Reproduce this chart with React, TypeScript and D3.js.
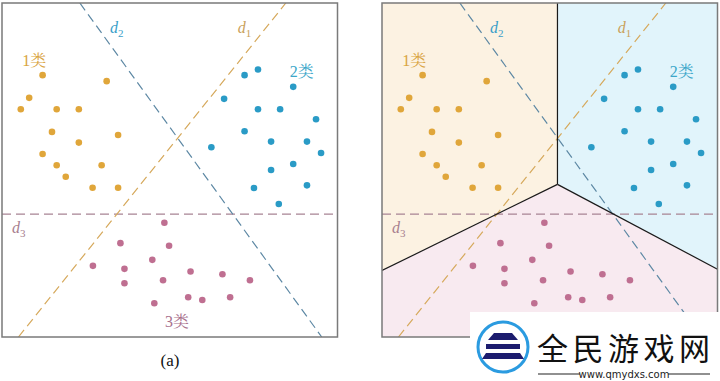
import React from 'react';
import * as d3 from 'd3';

// ---- data (abstract units 0..10) ----
const class1: [number, number][] = [
  [1.21, 7.84], [3.12, 7.66], [0.81, 7.16], [0.56, 6.82], [1.63, 6.82], [2.29, 6.82],
  [1.49, 6.14], [3.46, 6.05], [2.29, 5.82], [1.21, 5.48], [1.63, 5.14], [2.97, 5.14],
  [1.9, 4.8], [2.7, 4.47], [3.46, 4.47],
];
const class2: [number, number][] = [
  [7.23, 7.84], [7.63, 8.01], [8.68, 7.49], [6.62, 7.13], [7.63, 6.82], [8.29, 6.82],
  [9.36, 6.52], [7.23, 6.16], [6.24, 5.68], [8.02, 5.85], [9.09, 5.85], [9.51, 5.51],
  [8.68, 5.18], [8.02, 5.0], [9.09, 4.54], [7.51, 4.46], [8.25, 3.98],
];
const class3: [number, number][] = [
  [4.84, 3.42], [3.53, 2.81], [4.98, 2.73], [4.48, 2.31], [2.71, 2.13], [3.65, 2.04],
  [4.8, 1.7], [3.65, 1.61], [4.54, 1.01], [5.62, 1.96], [6.57, 1.88], [7.39, 1.7],
  [5.55, 1.19], [5.97, 1.11], [6.8, 1.19],
];
const lineD1: [number, number][] = [[0.49, 0], [8.46, 10]];
const lineD2: [number, number][] = [[2.32, 10], [9.53, 0]];
const lineD3: [number, number][] = [[0, 3.68], [10, 3.68]];
const junction: [number, number] = [5.23, 4.57];
const region1: [number, number][] = [[0, 10], [5.23, 10], junction, [0, 1.99]];
const region2: [number, number][] = [[5.23, 10], [10, 10], [10, 2.03], junction];
const region3: [number, number][] = [[0, 0], [10, 0], [10, 2.03], junction, [0, 1.99]];
const boundaries: [number, number][][] = [
  [[5.23, 10], junction],
  [[0, 1.99], junction],
  [[10, 2.03], junction],
];
const classLabels = [
  { text: '1类', at: [0.6, 8.11], color: '#d9a441' },
  { text: '2类', at: [8.58, 7.78], color: '#3ba6c9' },
  { text: '3类', at: [4.86, 0.3], color: '#a8708c' },
];
const lineLabels = [
  { sub: '1', at: [7.03, 9.1], color: '#c9a25c' },
  { sub: '2', at: [3.22, 9.1], color: '#3a9fc9' },
  { sub: '3', at: [0.3, 3.11], color: '#a8808f' },
];

const x = d3.scaleLinear().domain([0, 10]).range([2, 337.5]);
const y = d3.scaleLinear().domain([0, 10]).range([337, 3]);
const lineGen = d3.line<[number, number]>().x((d) => x(d[0])).y((d) => y(d[1]));

const SERIF = '"Liberation Serif", "Noto Serif CJK SC", "Noto Sans CJK SC", serif';

function Panel({ id, shaded }: { id: string; shaded: boolean }) {
  return (
    <g>
      <defs>
        <clipPath id={id}>
          <rect x={x(0)} y={y(10)} width={x(10) - x(0)} height={y(0) - y(10)} />
        </clipPath>
      </defs>
      {shaded && (
        <g>
          <path d={lineGen(region1)! + 'Z'} fill="#fcf2e2" />
          <path d={lineGen(region2)! + 'Z'} fill="#e1f4fb" />
          <path d={lineGen(region3)! + 'Z'} fill="#f8eaf0" />
        </g>
      )}
      <g clipPath={`url(#${id})`}>
        <path d={lineGen(lineD3)!} stroke="#a88494" strokeWidth={1.2} strokeDasharray="9,5" fill="none" />
        <path d={lineGen(lineD1)!} stroke="#d6a95c" strokeWidth={1.2} strokeDasharray="9,5" fill="none" />
        <path d={lineGen(lineD2)!} stroke="#5d88a4" strokeWidth={1.2} strokeDasharray="9,5" fill="none" />
        {shaded &&
          boundaries.map((b, i) => (
            <path key={i} d={lineGen(b)!} stroke="#1a1a1a" strokeWidth={1.2} fill="none" />
          ))}
      </g>
      <rect x={x(0)} y={y(10)} width={x(10) - x(0)} height={y(0) - y(10)} fill="none" stroke="#7a7a7a" strokeWidth={1.5} />
      {class1.map((d, i) => <circle key={'a' + i} cx={x(d[0])} cy={y(d[1])} r={3.3} fill="#e0a63a" />)}
      {class2.map((d, i) => <circle key={'b' + i} cx={x(d[0])} cy={y(d[1])} r={3.3} fill="#2a9bc6" />)}
      {class3.map((d, i) => <circle key={'c' + i} cx={x(d[0])} cy={y(d[1])} r={3.3} fill="#bf6f91" />)}
      {classLabels.map((l, i) => (
        <text key={'l' + i} x={x(l.at[0])} y={y(l.at[1])} fill={l.color} fontSize={16} fontFamily={SERIF}>
          {l.text}
        </text>
      ))}
      {lineLabels.map((l, i) => (
        <text key={'d' + i} x={x(l.at[0])} y={y(l.at[1])} fill={l.color} fontSize={16} fontFamily={SERIF} fontStyle="italic">
          d
          <tspan fontSize={11} fontStyle="normal" dy={4}>{l.sub}</tspan>
        </text>
      ))}
    </g>
  );
}

export default function App() {
  return (
    <svg width={720} height={381} style={{ position: 'absolute', left: 0, top: 0, background: '#fff' }}>
      <rect width={720} height={381} fill="#fff" />
      <Panel id="clipA" shaded={false} />
      <g transform="translate(380,0)">
        <Panel id="clipB" shaded={true} />
      </g>
      <text x={170} y={366} textAnchor="middle" fontSize={17} fontFamily={SERIF} fill="#111">(a)</text>
      {/* watermark */}
      <g>
        <rect x={470} y={312} width={250} height={69} fill="#fff" />
        <circle cx={503} cy={347} r={25} fill="none" stroke="#2b9be0" strokeWidth={3} />
        <path d="M488,340 L518,340 L512,333 L494,333 Z" fill="#1c1c6e" />
        <rect x={486} y={344} width={34} height={5} fill="#1c1c6e" />
        <path d="M482,359 L524,359 L520,353 L486,353 Z" fill="#1c1c6e" />
        <text x={537} y={360} fontSize={31} fontFamily='"Noto Sans CJK SC", sans-serif' fill="#111" textLength={173}>全民游戏网</text>
        <line x1={538} y1={374} x2={580} y2={374} stroke="#222" strokeWidth={1.2} />
        <line x1={668} y1={374} x2={710} y2={374} stroke="#222" strokeWidth={1.2} />
        <text x={624} y={378} textAnchor="middle" fontSize={10} fontFamily='"DejaVu Sans", sans-serif' fill="#222">www.qmydxs.com</text>
      </g>
    </svg>
  );
}
